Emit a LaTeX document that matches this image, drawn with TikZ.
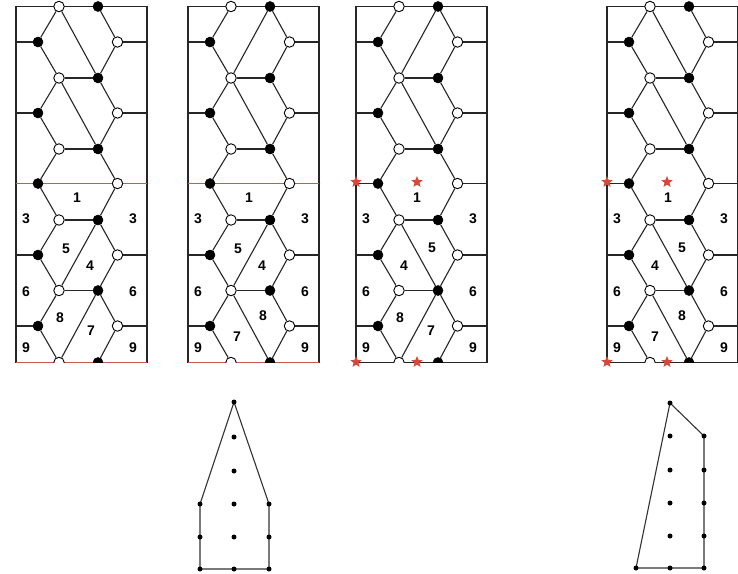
\documentclass[tikz,border=0pt]{standalone}
\usepackage{fontspec}
\setmainfont{Liberation Sans}
\usetikzlibrary{shapes.geometric}
\definecolor{redline}{RGB}{200,90,80}
\definecolor{starred}{RGB}{214,72,58}
\tikzset{
 edge/.style={line width=1.1pt, draw=black!85},
 frame/.style={line width=1.1pt, draw=black!85},
 wv/.style={circle, draw=black, fill=white, line width=0.9pt, minimum size=10.5pt, inner sep=0pt},
 bv/.style={circle, fill=black, draw=black, line width=0.5pt, minimum size=10pt, inner sep=0pt},
 lab/.style={font=\fontsize{14}{14}\selectfont\bfseries, inner sep=0pt},
 seam/.style={draw=redline, line width=1.1pt},
 starn/.style={star, star points=5, star point ratio=2.3, fill=starred, minimum size=12pt, inner sep=0pt},
 gdot/.style={circle, fill=black, minimum size=5pt, inner sep=0pt},
 poly/.style={line width=1.1pt, draw=black!80},
}
% #1 prefix, #2 left x, #3 hook drawn before the vertices
\newcommand\hexpanel[3]{%
  \draw[frame] (#2,6.5) rectangle ({#2+131},362.5);
  \foreach \k/\yy in {1/42,3/113,5/183.5,7/255,9/326}{
    \coordinate (#1el\k) at (#2,\yy);
    \coordinate (#1er\k) at ({#2+131},\yy);
  }
  #3
  \foreach \k/\yy in {0/6.5,2/78,4/149,6/220,8/290.5}{
    \node[wv] (#1il\k) at ({#2+43},\yy) {};
    \node[bv] (#1ir\k) at ({#2+82},\yy) {};
  }
  \begin{scope}
    \clip ({#2-10},0) rectangle ({#2+141},362.5);
    \node[wv] (#1il10) at ({#2+43},362.5) {};
    \node[bv] (#1ir10) at ({#2+82},362.5) {};
  \end{scope}
  \foreach \k/\yy in {1/42,3/113,5/183.5,7/255,9/326}{
    \node[bv] (#1l\k) at ({#2+22},\yy) {};
    \node[wv] (#1r\k) at ({#2+101.5},\yy) {};
  }
  \foreach \k/\a/\b in {1/0/2,3/2/4,5/4/6,7/6/8,9/8/10}{
    \draw[edge] (#1l\k) -- (#1il\a);
    \draw[edge] (#1l\k) -- (#1il\b);
    \draw[edge] (#1r\k) -- (#1ir\a);
    \draw[edge] (#1r\k) -- (#1ir\b);
  }
  \foreach \k in {2,4,6,8}{\draw[edge] (#1il\k) -- (#1ir\k);}
  \foreach \k in {1,3,7,9}{
    \draw[edge] (#1el\k) -- (#1l\k);
    \draw[edge] (#1r\k) -- (#1er\k);
  }
  \node[lab] (#1n1) at ({#2+61},198) {1};
  \node[lab] (#1n3a) at ({#2+10},219) {3};
  \node[lab] (#1n3b) at ({#2+117},219) {3};
  \node[lab] (#1n6a) at ({#2+10},292) {6};
  \node[lab] (#1n6b) at ({#2+117},292) {6};
  \node[lab] (#1n9a) at ({#2+10},348) {9};
  \node[lab] (#1n9b) at ({#2+117},348) {9};
}
\begin{document}
\begin{tikzpicture}[x=1pt,y=-1pt]
\useasboundingbox (0,0) rectangle (738,573);
\fill[white] (0,0) rectangle (738,573);

% ---------- panel 1 ----------
\hexpanel{a}{16}{\draw[seam] (ael5) -- (aer5); \draw[seam] (16,362.5) -- (147,362.5);}
\draw[edge] (ail0) -- (air2);
\draw[edge] (ail2) -- (air4);
\draw[edge] (air6) -- (ail8);
\draw[edge] (air8) -- (ail10);
\node[lab] (an5) at (66,249) {5};
\node[lab] (an4) at (90,266) {4};
\node[lab] (an8) at (60,318) {8};
\node[lab] (an7) at (91,331) {7};

% ---------- panel 2 ----------
\hexpanel{b}{188}{\draw[seam] (bel5) -- (ber5); \draw[seam] (188,362.5) -- (319,362.5);}
\draw[edge] (bir0) -- (bil2);
\draw[edge] (bil2) -- (bir4);
\draw[edge] (bir6) -- (bil8);
\draw[edge] (bil8) -- (bir10);
\node[lab] (bn5) at (238,249) {5};
\node[lab] (bn4) at (262,266) {4};
\node[lab] (bn8) at (263,316) {8};
\node[lab] (bn7) at (237,337) {7};

% ---------- panel 3 ----------
\hexpanel{c}{356}{}
\draw[edge] (cel5) -- (cl5);
\draw[edge] (cr5) -- (cer5);
\draw[edge] (cir0) -- (cil2);
\draw[edge] (cil2) -- (cir4);
\draw[edge] (cil6) -- (cir8);
\draw[edge] (cir8) -- (cil10);
\node[lab] (cn4) at (404,266) {4};
\node[lab] (cn5) at (432,248) {5};
\node[lab] (cn8) at (400,318) {8};
\node[lab] (cn7) at (431,331) {7};
\node[starn] (cs1) at (356,182) {};
\node[starn] (cs2) at (417,182) {};
\node[starn] (cs3) at (356,362) {};
\node[starn] (cs4) at (417,362) {};

% ---------- panel 4 ----------
\hexpanel{d}{607}{}
\draw[edge] (del5) -- (dl5);
\draw[edge] (dr5) -- (der5);
\draw[edge] (dil0) -- (dir2);
\draw[edge] (dil2) -- (dir4);
\draw[edge] (dil6) -- (dir8);
\draw[edge] (dil8) -- (dir10);
\node[lab] (dn4) at (655,266) {4};
\node[lab] (dn5) at (682,248) {5};
\node[lab] (dn8) at (682,316) {8};
\node[lab] (dn7) at (655,337) {7};
\node[starn] (ds1) at (607,182) {};
\node[starn] (ds2) at (667,182) {};
\node[starn] (ds3) at (607,362) {};
\node[starn] (ds4) at (667,362) {};

% ---------- polygon 1 ----------
\foreach \k/\yy in {0/402,1/437,2/471,3/504,4/537,5/569}{
  \coordinate (pc\k) at (234,\yy);
}
\foreach \k/\yy in {3/504,4/537,5/569}{
  \coordinate (pl\k) at (200,\yy);
  \coordinate (pr\k) at (269,\yy);
}
\draw[poly] (pc0) -- (pr3) -- (pr5) -- (pl5) -- (pl3) -- cycle;
\foreach \k in {0,...,5}{\node[gdot] (pdc\k) at (pc\k) {};}
\foreach \k in {3,4,5}{\node[gdot] (pdl\k) at (pl\k) {}; \node[gdot] (pdr\k) at (pr\k) {};}

% ---------- polygon 2 ----------
\foreach \k/\yy in {0/403,1/436,2/470,3/503,4/536,5/568}{
  \coordinate (qc\k) at (670,\yy);
  \coordinate (qr\k) at (704,\yy);
}
\coordinate (ql5) at (636,568);
\draw[poly] (qc0) -- (qr1) -- (qr5) -- (ql5) -- cycle;
\foreach \k in {0,...,5}{\node[gdot] (qdc\k) at (qc\k) {};}
\foreach \k in {1,...,5}{\node[gdot] (qdr\k) at (qr\k) {};}
\node[gdot] (qdl5) at (ql5) {};
\end{tikzpicture}
\end{document}
